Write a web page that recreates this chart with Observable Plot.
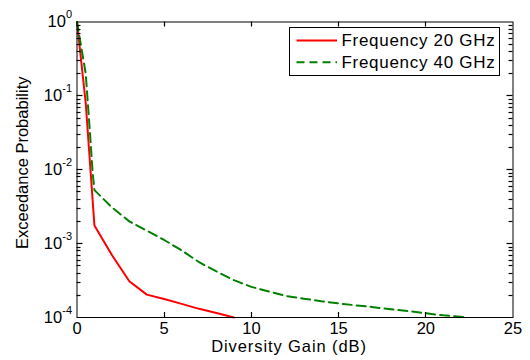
<!DOCTYPE html>
<html>
<head>
<meta charset="utf-8">
<script src="https://cdn.jsdelivr.net/npm/d3@7"></script>
<script src="https://cdn.jsdelivr.net/npm/@observablehq/plot@0.6"></script>
<style>
  html, body { margin: 0; padding: 0; background: #fff; }
  svg { font-family: "Liberation Sans", Arial, Helvetica, sans-serif; }
</style>
</head>
<body>
<div id="chart"></div>
<script>
// ---- data ----
const seriesNames = ["Frequency 20 GHz", "Frequency 40 GHz"];
const seriesColors = ["#ff0000", "#008000"];
const seriesDashes = [null, "9,5"];

const gain20 = [0, 0.5, 1, 2, 3, 4, 5, 6, 7, 8, 9];
const prob20 = [1, 0.08, 0.00176, 7.0e-4, 3.1e-4, 2.04e-4, 1.78e-4, 1.53e-4, 1.31e-4, 1.15e-4, 1.0e-4];

const gain40 = [0, 0.5, 0.75, 0.9, 1, 2, 3, 4, 5, 6, 7, 8, 9, 10, 11, 12, 13, 14, 15, 16, 17, 18, 19, 20, 21, 22, 22.4];
const prob40 = [1, 0.2, 0.03, 0.009, 0.0053, 3.1e-3, 2.0e-3, 1.5e-3, 1.12e-3, 8.1e-4, 5.6e-4, 4.2e-4, 3.2e-4,
                2.6e-4, 2.25e-4, 1.95e-4, 1.8e-4, 1.66e-4, 1.55e-4, 1.46e-4, 1.38e-4, 1.29e-4, 1.22e-4,
                1.14e-4, 1.07e-4, 1.02e-4, 1.0e-4];

const xTicks = [0, 5, 10, 15, 20, 25];
const yTicks = [1e-4, 1e-3, 1e-2, 1e-1, 1];
const yTickLabels = ["10^-4", "10^-3", "10^-2", "10^-1", "10^0"];
const yMinorTicks = [];
for (const dec of [1e-4, 1e-3, 1e-2, 1e-1]) for (const m of [2, 3, 4, 5, 6, 7, 8, 9]) yMinorTicks.push(+(m * dec).toPrecision(3));

const xLabel = "Diversity Gain (dB)";
const yLabel = "Exceedance Probability";

// build a tidy table for the line marks
const rows = [];
gain20.forEach((g, i) => rows.push({gain: g, prob: prob20[i], series: seriesNames[0]}));
gain40.forEach((g, i) => rows.push({gain: g, prob: prob40[i], series: seriesNames[1]}));

const W = 530, H = 360, mL = 76.5, mR = 17.5, mT = 21.5, mB = 43;
const xDomain = [0, 25], yDomain = [1e-4, 1];
const majorLen = 6, minorLen = 4, xTickLen = 5;

const plot = Plot.plot({
  width: W,
  height: H,
  marginLeft: mL,
  marginRight: mR,
  marginTop: mT,
  marginBottom: mB,
  style: {
    fontFamily: '"Liberation Sans", Arial, Helvetica, sans-serif',
    fontSize: "16.5px",
    color: "#000",
    background: "#fff",
    overflow: "visible"
  },
  x: {domain: xDomain},
  y: {type: "log", domain: yDomain},
  marks: [
    // curves
    Plot.line(rows.filter(d => d.series === seriesNames[0]), {
      x: "gain", y: "prob", stroke: seriesColors[0], strokeWidth: 2
    }),
    Plot.line(rows.filter(d => d.series === seriesNames[1]), {
      x: "gain", y: "prob", stroke: seriesColors[1], strokeWidth: 2, strokeDasharray: seriesDashes[1]
    }),
    // x axis labels + title
    Plot.axisX(xTicks, {
      anchor: "bottom", tickSize: 0, tickPadding: 5,
      label: xLabel, labelAnchor: "center", labelOffset: 34, labelArrow: "none"
    }),
    // y axis labels + title
    Plot.axisY(yTicks, {
      anchor: "left", tickSize: 0, tickPadding: 5,
      tickFormat: d => yTickLabels[yTicks.indexOf(d)],
      label: yLabel, labelAnchor: "center", labelOffset: 61, labelArrow: "none"
    }),
    Plot.frame({stroke: "#000", strokeWidth: 1})
  ]
});

const svg = d3.select(plot);
const sx = plot.scale("x"), sy = plot.scale("y");
const [x0, x1] = sx.range;           // pixel extent of the frame
const [y0, y1] = sy.range;           // y0 = bottom, y1 = top

// inward MATLAB-style ticks, positioned through Plot's own scales
const tg = svg.append("g").attr("class", "inner-ticks").attr("stroke", "#000").attr("stroke-width", 1.2);
for (const v of xTicks.slice(1, -1)) {
  const px = Math.round(sx.apply(v)) + 0.5;
  tg.append("line").attr("x1", px).attr("x2", px).attr("y1", y0).attr("y2", y0 - xTickLen);
  tg.append("line").attr("x1", px).attr("x2", px).attr("y1", y1).attr("y2", y1 + xTickLen);
}
for (const [vals, len] of [[yTicks.slice(1, -1), majorLen], [yMinorTicks, minorLen]]) {
  for (const v of vals) {
    const py = Math.round(sy.apply(v)) + 0.5;
    tg.append("line").attr("x1", x0).attr("x2", x0 + len).attr("y1", py).attr("y2", py);
    tg.append("line").attr("x1", x1).attr("x2", x1 - len).attr("y1", py).attr("y2", py);
  }
}

// superscript exponents on the y tick labels
svg.selectAll("text").each(function () {
  const m = /^10\^(-?\d+)$/.exec(this.textContent);
  if (m) {
    const t = d3.select(this);
    t.text("10");
    t.append("tspan").attr("dy", -9).attr("font-size", 11).text(m[1]);
  }
});

// axis titles: MATLAB renders them a bit wider / offset
svg.selectAll("text").filter(function () { return this.textContent === xLabel; })
  .attr("letter-spacing", "0.9px").attr("dx", -6);
svg.selectAll("text").filter(function () { return this.textContent === yLabel; })
  .attr("dx", 7);

// legend box inside the plot (top-right)
const lg = svg.append("g").attr("class", "legend").attr("text-anchor", "start");
lg.append("rect")
  .attr("x", 289.5).attr("y", 27.5).attr("width", 210).attr("height", 48)
  .attr("fill", "#fff").attr("stroke", "#000").attr("stroke-width", 1);
seriesNames.forEach((name, i) => {
  const cy = 40.5 + i * 21.8;
  lg.append("line")
    .attr("x1", 296.5).attr("x2", 337).attr("y1", cy).attr("y2", cy)
    .attr("stroke", seriesColors[i]).attr("stroke-width", 2)
    .attr("stroke-dasharray", seriesDashes[i] ? "8,5" : null);
  lg.append("text")
    .attr("x", 341.5).attr("y", cy).attr("dy", "0.35em")
    .attr("text-anchor", "start")
    .attr("font-size", 17).attr("letter-spacing", "0.7px")
    .attr("fill", "#000")
    .text(name);
});

document.getElementById("chart").appendChild(plot);
</script>
</body>
</html>
